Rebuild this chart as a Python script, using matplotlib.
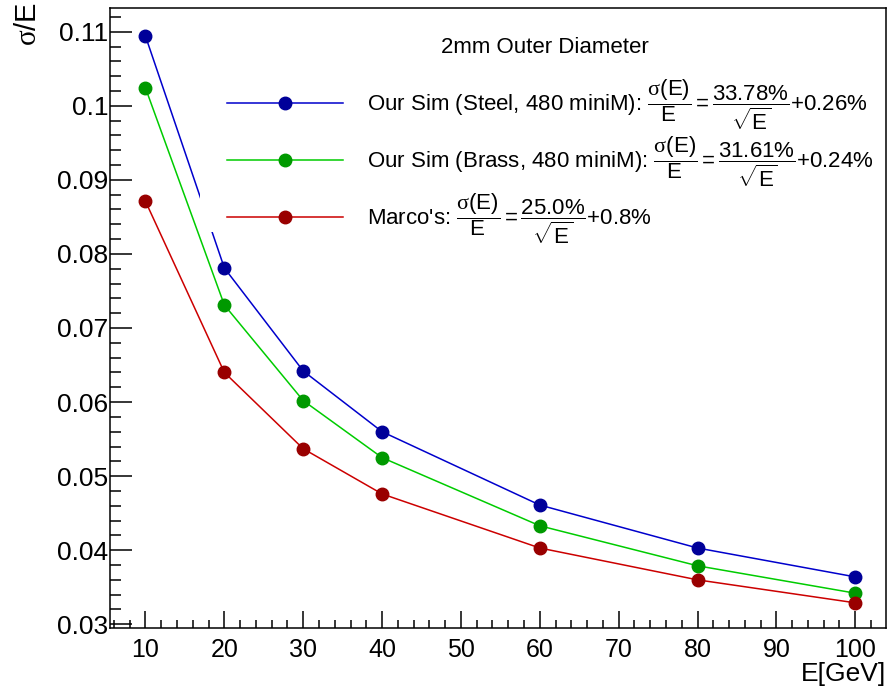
import matplotlib
matplotlib.use("Agg")
import matplotlib.pyplot as plt
from matplotlib.ticker import MultipleLocator, FuncFormatter
from matplotlib.patches import Rectangle

plt.rcParams['font.family'] = ['Liberation Sans', 'DejaVu Sans']
plt.rcParams['mathtext.fontset'] = 'custom'
plt.rcParams['mathtext.rm'] = 'Liberation Sans'
plt.rcParams['mathtext.it'] = 'Liberation Serif'

# beam energies (GeV)
energy = [10, 20, 30, 40, 60, 80, 100]

# relative resolution sigma/E
steel = [0.1094, 0.0781, 0.0642, 0.0560, 0.0461, 0.0403, 0.0364]
brass = [0.1024, 0.0731, 0.0602, 0.0525, 0.0433, 0.0379, 0.0342]
marco = [0.0871, 0.0640, 0.0537, 0.0476, 0.0403, 0.0360, 0.0329]

labels = [
    r"Our Sim (Steel, 480 miniM): $\dfrac{\sigma\mathrm{(E)}}{\mathrm{E}} = \dfrac{\mathrm{33.78\%}}{\sqrt{\mathrm{E}}}$+0.26%",
    r"Our Sim (Brass, 480 miniM): $\dfrac{\sigma\mathrm{(E)}}{\mathrm{E}} = \dfrac{\mathrm{31.61\%}}{\sqrt{\mathrm{E}}}$+0.24%",
    r"Marco's: $\dfrac{\sigma\mathrm{(E)}}{\mathrm{E}} = \dfrac{\mathrm{25.0\%}}{\sqrt{\mathrm{E}}}$+0.8%",
]

fig = plt.figure(figsize=(8.91, 6.88), dpi=100)
ax = fig.add_axes([110 / 891, 1 - 628 / 688, 776 / 891, 620 / 688])

ax.plot(energy, steel, '-o', color='#0000cc', mfc='#000099', mec='#000099', lw=1.1, ms=9, label=labels[0])
ax.plot(energy, brass, '-o', color='#00cc00', mfc='#009900', mec='#009900', lw=1.1, ms=9, label=labels[1])
ax.plot(energy, marco, '-o', color='#cc0000', mfc='#990000', mec='#990000', lw=1.1, ms=9, label=labels[2])

ax.set_xlim(5.5, 103.9)
ax.set_ylim(0.0295, 0.1132)

ax.xaxis.set_major_locator(MultipleLocator(10))
ax.xaxis.set_minor_locator(MultipleLocator(2))
ax.yaxis.set_major_locator(MultipleLocator(0.01))
ax.yaxis.set_minor_locator(MultipleLocator(0.002))
ax.yaxis.set_major_formatter(FuncFormatter(lambda v, p: f"{round(v, 4):g}"))

ax.tick_params(which='both', direction='in', top=False, right=False, width=1.1)
ax.tick_params(axis='y', which='major', length=16, pad=1, labelsize=19)
ax.tick_params(axis='y', which='minor', length=8)
ax.tick_params(axis='x', which='major', length=12, pad=7, labelsize=18)
ax.tick_params(axis='x', which='minor', length=6)
for s in ax.spines.values():
    s.set_linewidth(1.1)

ax.set_xlabel("E[GeV]", fontsize=19, loc='right', labelpad=0)
ax.set_ylabel(r"$\sigma$/E", fontsize=21, loc='top')
ax.yaxis.set_label_coords(-0.088, 1.01)

# white legend pad like ROOT's TLegend box
ax.add_patch(Rectangle((0.116, 0.639), 0.88, 0.355, transform=ax.transAxes,
                       facecolor='white', edgecolor='none', zorder=3))
ax.text(0.5606, 0.937, "2mm Outer Diameter", transform=ax.transAxes,
        ha='center', va='center', fontsize=16, zorder=6)

leg = ax.legend(loc='upper left', bbox_to_anchor=(106 / 776, 0.906), frameon=False,
                borderpad=0, fontsize=16, handlelength=5.2, handletextpad=1.1,
                labelspacing=0.12)
leg.set_zorder(5)

fig.savefig("out.png", dpi=100)
